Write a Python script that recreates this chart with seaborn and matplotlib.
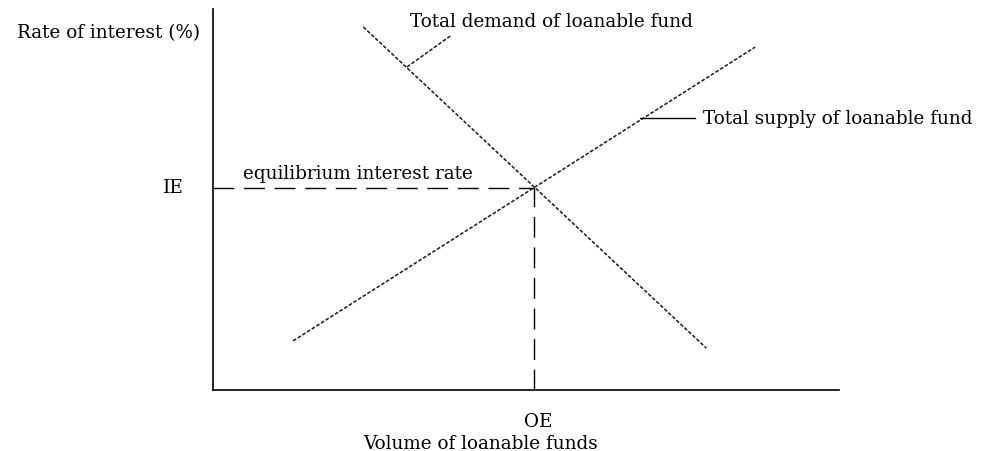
import matplotlib
matplotlib.use("Agg")
import matplotlib.pyplot as plt
import seaborn as sns

# Loanable funds market: volume on x, rate of interest on y (arbitrary 0-100 scale)
supply_x = [12.8, 86.6]
supply_y = [12.9, 90.0]
demand_x = [24.0, 78.8]
demand_y = [95.3, 11.0]
equilibrium_volume = 51.3
equilibrium_rate = 53.0

# Leader lines tying the labels to their curves
demand_leader_x = [31.0, 37.9]
demand_leader_y = [84.8, 92.9]
supply_leader_x = [68.2, 77.0]
supply_leader_y = [71.4, 71.4]

y_title = "Rate of interest (%)"
x_title = "Volume of loanable funds"
demand_label = "Total demand of loanable fund"
supply_label = "Total supply of loanable fund"
eq_label = "equilibrium interest rate"
rate_tick = "IE"
volume_tick = "OE"

sns.set_theme(style="white")
plt.rcParams["font.family"] = ["DejaVu Serif"]

fig = plt.figure(figsize=(9.91, 4.52), dpi=100)
ax = fig.add_axes([213 / 991, (452 - 391) / 452, (839 - 213) / 991, (391 - 10) / 452])
ax.set_xlim(0, 100)
ax.set_ylim(0, 100)

curve_style = dict(color="#1a1a1a", lw=1.1, linestyle=(0, (2.4, 1.2)))
sns.lineplot(x=supply_x, y=supply_y, ax=ax, **curve_style)
sns.lineplot(x=demand_x, y=demand_y, ax=ax, **curve_style)
sns.lineplot(x=demand_leader_x, y=demand_leader_y, ax=ax, **curve_style)
sns.lineplot(x=supply_leader_x, y=supply_leader_y, ax=ax, color="black", lw=1.0)

# Equilibrium guides
guide = dict(color="black", lw=1.0, linestyle=(0, (15, 7)))
ax.plot([0, equilibrium_volume], [equilibrium_rate, equilibrium_rate], **guide)
ax.plot([equilibrium_volume, equilibrium_volume], [0, equilibrium_rate], **guide)

for side in ("top", "right"):
    ax.spines[side].set_visible(False)
for side in ("left", "bottom"):
    ax.spines[side].set_color("black")
    ax.spines[side].set_linewidth(1.2)
ax.set_xticks([])
ax.set_yticks([])

fs = 13.2
txt = dict(color="black", fontsize=fs, clip_on=False)
ax.text(-31.3, 94.0, y_title, ha="left", va="center", **txt)
ax.text(31.5, 96.9, demand_label, ha="left", va="center", **txt)
ax.text(78.3, 71.4, supply_label, ha="left", va="center", **txt)
ax.text(4.8, 57.0, eq_label, ha="left", va="center", **txt)
ax.text(-6.4, 53.3, rate_tick, ha="center", va="center", **txt)
ax.text(51.9, -8.1, volume_tick, ha="center", va="center", **txt)
ax.text(42.7, -13.8, x_title, ha="center", va="center", **txt)

fig.savefig("out.png", dpi=100, facecolor="white")
